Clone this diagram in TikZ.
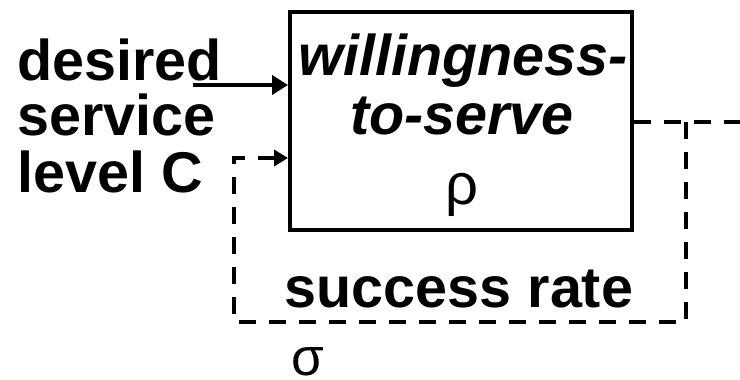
\documentclass[tikz,border=0pt]{standalone}
\usepackage{fontspec}
\setmainfont{Liberation Sans}
\usetikzlibrary{arrows.meta}
\begin{document}
\begin{tikzpicture}[x=1pt,y=-1pt,
  big/.style={font=\fontsize{57.5}{58}\selectfont\bfseries, inner sep=0pt},
  bigit/.style={font=\fontsize{57.5}{58}\selectfont\bfseries\itshape, inner sep=0pt},
  greek/.style={font=\fontsize{58}{58}\selectfont, inner sep=0pt},
  smallgreek/.style={font=\fontsize{53}{53}\selectfont, inner sep=0pt},
  boxstyle/.style={draw, line width=4pt, minimum width=342pt, minimum height=218pt, inner sep=0pt},
  arr/.style={line width=4pt, -{Triangle[length=16pt,width=19pt]}},
  dsh/.style={line width=4pt, dash pattern=on 17pt off 13pt},
  dsharr/.style={dsh, -{Triangle[length=14pt,width=16pt]}}]
\useasboundingbox (0,0) rectangle (740,380);
\node[boxstyle] (box) at (461,121) {};
\node[big, anchor=base west] (l1) at (17,80) {desired};
\node[big, anchor=base west] (l2) at (17,135) {service};
\node[big, anchor=base west] (l3) at (17,192) {level C};
\node[bigit, anchor=base] (w1) at (463,75) {willingness-};
\node[bigit, anchor=base] (w2) at (462,134) {to-serve};
\node[greek, anchor=base] (rho) at (462,204) {ρ};
\node[big, anchor=base] (sr) at (459,307) {success rate};
\node[smallgreek, anchor=base west] (sig) at (291,375) {σ};
\coordinate (c1) at (193,85);
\draw[arr] (c1) -- (box.west |- c1);
\coordinate (out) at (740,122);
\coordinate (j) at (686,122);
\coordinate (b1) at (686,322);
\coordinate (b2) at (234,322);
\coordinate (b3) at (234,158);
\draw[dsh] (box.east |- out) -- (out);
\draw[dsharr] (j) -- (b1) -- (b2) -- (b3) -- (box.west |- b3);
\end{tikzpicture}
\end{document}
